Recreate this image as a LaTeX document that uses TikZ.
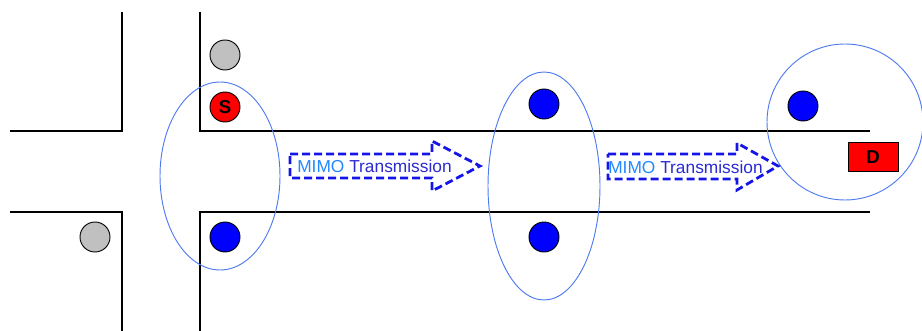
\documentclass[tikz,border=0pt]{standalone}
\usepackage{fontspec}
\setmainfont{Liberation Sans}
\definecolor{nodegray}{HTML}{C0C0C0}
\definecolor{nodered}{HTML}{FF0000}
\definecolor{nodeblue}{HTML}{0000FF}
\definecolor{zoneblue}{HTML}{4F7BF0}
\definecolor{mimolight}{HTML}{2288FF}
\definecolor{mimodark}{HTML}{2A2AD0}
\definecolor{arrowblue}{HTML}{1515E8}

\begin{document}
\begin{tikzpicture}[
  x=0.75pt,
  y=-0.75pt,
  road/.style={black, line width=0.8pt},
  terminal/.style={circle, draw=black, line width=0.7pt, minimum size=22.5pt, inner sep=0pt},
  idle/.style={terminal, fill=nodegray},
  relay/.style={terminal, fill=nodeblue},
  source/.style={terminal, fill=nodered, font=\bfseries\fontsize{14}{16}\selectfont},
  dest/.style={rectangle, draw=black, line width=0.7pt, fill=nodered, minimum width=37.5pt,
    minimum height=21.75pt, inner sep=0pt, font=\bfseries\fontsize{14}{16}\selectfont},
  zone/.style={zoneblue, line width=0.7pt},
  hop/.style={arrowblue, line width=2.1pt, dash pattern=on 6pt off 3pt, line join=miter},
  hoplabel/.style={inner sep=0pt, anchor=west, font=\fontsize{13}{15}\selectfont}
]
  % ---- page size, in pixels of the original figure
  \useasboundingbox (0,0) rectangle (922,331);

  % ---- streets ----------------------------------------------------------
  \draw[road] (122,12) -- (122,131) -- (10,131);
  \draw[road] (200,12) -- (200,131) -- (870,131);
  \draw[road] (10,212) -- (122,212) -- (122,331);
  \draw[road] (200,331) -- (200,212) -- (870,212);

  % ---- cooperating clusters ----------------------------------------------
  \draw[zone] (220,176) ellipse [x radius=60, y radius=94];
  \draw[zone] (544,186) ellipse [x radius=56, y radius=114];
  \draw[zone] (845,122) circle [radius=78];

  % ---- terminals ----------------------------------------------------------
  \node[idle]   (g1) at (225,55)  {};
  \node[source] (s)  at (225,107) {S};
  \node[relay]  (r1) at (225,237) {};
  \node[idle]   (g2) at (95,237)  {};
  \node[relay]  (r2) at (544,104) {};
  \node[relay]  (r3) at (544,237) {};
  \node[relay]  (r4) at (803,106) {};
  \node[dest]   (d)  at (873,157) {D};

  % ---- MIMO hops ----------------------------------------------------------
  \draw[hop] (290,154) -- (432,154) -- (432,141) -- (480,166)
    -- (432,191) -- (432,178) -- (290,178) -- cycle;
  \node[hoplabel] (t1) at (297,166)
    {\textcolor{mimolight}{MIMO} \textcolor{mimodark}{Transmission}};

  \draw[hop] (608,154) -- (737,154) -- (737,143) -- (778,166)
    -- (737,190) -- (737,179) -- (608,179) -- cycle;
  \node[hoplabel] (t2) at (608,167)
    {\textcolor{mimolight}{MIMO} \textcolor{mimodark}{Transmission}};
\end{tikzpicture}
\end{document}
